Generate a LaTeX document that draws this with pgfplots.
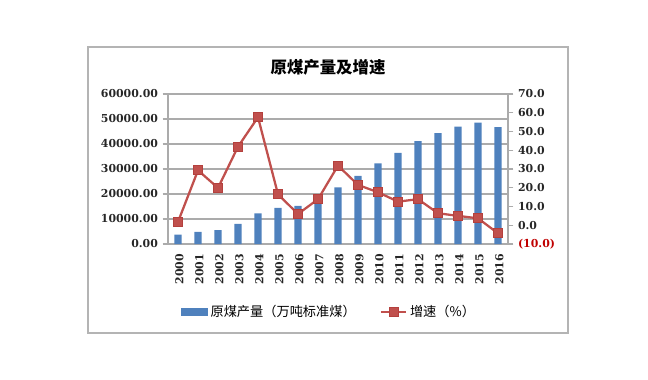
\documentclass[border=0pt]{standalone}
\usepackage{pgfplots}
\pgfplotsset{compat=1.18}
\usepackage{fontspec}
\setmainfont{DejaVu Serif}
\newfontfamily\cjk{Noto Sans CJK SC}
\definecolor{barblue}{HTML}{4F81BD}
\definecolor{linered}{HTML}{C0504D}
\definecolor{markedge}{HTML}{B4403D}
\definecolor{gridgray}{HTML}{ABABAB}
\definecolor{bordergray}{HTML}{B4B4B4}
\definecolor{negred}{HTML}{C00000}
\definecolor{labtext}{HTML}{262626}

\pgfplotsset{
  barlegend/.style={legend image code/.code={\fill[barblue] (0pt,-2.6pt) rectangle (19.5pt,2.6pt);}},
  linelegend/.style={legend image code/.code={\draw[mark repeat=2,mark phase=2,##1] plot coordinates {(0pt,0pt) (9.5pt,0pt) (19pt,0pt)};}},
}

\pgfplotstableread{
x year prod
0 2000 3720
1 2001 4900
2 2002 5600
3 2003 8100
4 2004 12250
5 2005 14500
6 2006 15300
7 2007 17500
8 2008 22700
9 2009 27300
10 2010 32300
11 2011 36500
12 2012 41200
13 2013 44400
14 2014 47000
15 2015 48600
16 2016 46800
}\prodtable

\pgfplotstableread{
x year rate
0 2000 1.8
1 2001 29.3
2 2002 19.9
3 2003 41.9
4 2004 57.6
5 2005 16.5
6 2006 6.0
7 2007 13.9
8 2008 31.8
9 2009 21.5
10 2010 17.6
11 2011 12.6
12 2012 13.9
13 2013 6.4
14 2014 5.0
15 2015 3.7
16 2016 -4.3
}\ratetable

\begin{document}
\begin{tikzpicture}
\path[use as bounding box] (0,0) rectangle (486pt,284.25pt);
\draw[bordergray, line width=0.8pt] (66pt,34.5pt) rectangle (426pt,249pt);
\node[font=\cjk\bfseries\fontsize{12.3}{14}\selectfont, text=black] at (246pt,234pt) {原煤产量及增速};

\begin{axis}[
  at={(126pt,101.25pt)}, anchor=south west,
  scale only axis, width=255pt, height=112.5pt,
  xmin=-0.5, xmax=16.5, ymin=0, ymax=60000,
  axis x line*=bottom, axis y line*=left,
  axis line style={gridgray, line width=0.8pt},
  tick align=outside,
  scaled y ticks=false,
  ytick={0,10000,20000,30000,40000,50000,60000},
  yticklabels={0.00,10000.00,20000.00,30000.00,40000.00,50000.00,60000.00},
  ymajorgrids, grid style={gridgray, line width=0.8pt},
  major tick length=4pt,
  ytick style={gridgray, line width=0.8pt},
  xtick={0,...,16},
  xticklabels={2000,2001,2002,2003,2004,2005,2006,2007,2008,2009,2010,2011,2012,2013,2014,2015,2016},
  xtick style={draw=none},
  minor xtick={-0.5,0.5,...,16.5},
  minor tick length=3.5pt,
  minor tick style={gridgray, line width=0.8pt},
  xticklabel style={rotate=90, anchor=east, font=\bfseries\fontsize{8.2}{10}\selectfont, text=labtext, yshift=-1pt},
  yticklabel style={font=\bfseries\fontsize{8.2}{10}\selectfont, text=labtext},
  ybar, bar width=5.6pt,
]
\addplot[fill=barblue, draw=none] table[x=x, y=prod] {\prodtable};
\end{axis}

\begin{axis}[
  at={(126pt,101.25pt)}, anchor=south west,
  scale only axis, width=255pt, height=112.5pt,
  xmin=-0.5, xmax=16.5, ymin=-10, ymax=70,
  axis y line*=right, axis x line=none,
  axis line style={gridgray, line width=0.8pt},
  tick align=outside, major tick length=4pt,
  scaled y ticks=false,
  ytick style={gridgray, line width=0.8pt},
  ytick={-10,0,10,20,30,40,50,60,70},
  yticklabels={\textcolor{negred}{(10.0)},0.0,10.0,20.0,30.0,40.0,50.0,60.0,70.0},
  yticklabel style={font=\bfseries\fontsize{8.2}{10}\selectfont, text=labtext},
  legend columns=2,
  legend style={draw=none, fill=none, at={(0.475,-0.453)}, anchor=center,
    font=\cjk\fontsize{9.9}{12}\selectfont,
    /tikz/every odd column/.append style={column sep=0pt},
    /tikz/every even column/.append style={column sep=16pt}},
]
\addlegendimage{barlegend}
\addlegendentry{原煤产量（万吨标准煤）}
\addplot[color=linered, line width=1.7pt, mark=square*, mark size=3.4pt,
  mark options={fill=linered, draw=markedge, line width=0.6pt}, linelegend]
  table[x=x, y=rate] {\ratetable};
\addlegendentry{增速（\%）}
\end{axis}
\end{tikzpicture}
\end{document}
